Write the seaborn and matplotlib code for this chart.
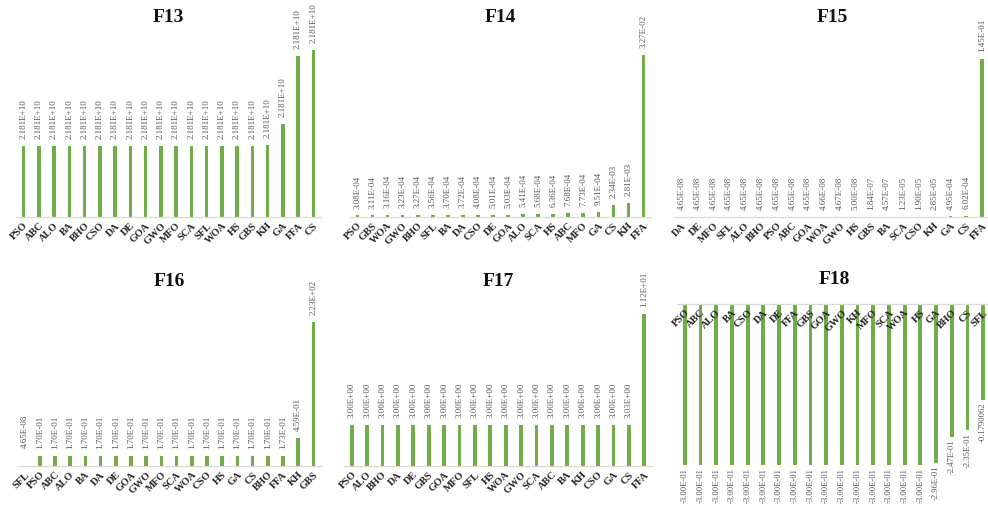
import matplotlib
matplotlib.use("Agg")
import matplotlib.pyplot as plt
import seaborn as sns
import pandas as pd

sns.set_theme(style="white")
plt.rcParams['font.family'] = ['Liberation Serif', 'DejaVu Serif']

GREEN = "#70AD47"

# ---------------- data ----------------
f13_cats = ["PSO", "ABC", "ALO", "BA", "BHO", "CSO", "DA", "DE", "GOA", "GWO",
            "MFO", "SCA", "SFL", "WOA", "HS", "GBS", "KH", "GA", "FFA", "CS"]
f13_vals = [2.18100e10] * 16 + [2.181001e10, 2.181016e10, 2.181064e10, 2.181068e10]
f13_labels = ["2.181E+10"] * 20

f14_cats = ["PSO", "GBS", "WOA", "GWO", "BHO", "SFL", "BA", "DA", "CSO", "DE",
            "GOA", "ALO", "SCA", "HS", "ABC", "MFO", "GA", "CS", "KH", "FFA"]
f14_vals = [3.08e-4, 3.11e-4, 3.16e-4, 3.23e-4, 3.27e-4, 3.56e-4, 3.70e-4, 3.72e-4,
            4.08e-4, 5.01e-4, 5.03e-4, 5.41e-4, 5.68e-4, 6.36e-4, 7.68e-4, 7.73e-4,
            9.51e-4, 2.34e-3, 2.81e-3, 3.27e-2]
f14_labels = ["3.08E-04", "3.11E-04", "3.16E-04", "3.23E-04", "3.27E-04", "3.56E-04",
              "3.70E-04", "3.72E-04", "4.08E-04", "5.01E-04", "5.03E-04", "5.41E-04",
              "5.68E-04", "6.36E-04", "7.68E-04", "7.73E-04", "9.51E-04", "2.34E-03",
              "2.81E-03", "3.27E-02"]

f15_cats = ["DA", "DE", "MFO", "SFL", "ALO", "BHO", "PSO", "ABC", "GOA", "WOA",
            "GWO", "HS", "GBS", "BA", "SCA", "CSO", "KH", "GA", "CS", "FFA"]
f15_vals = [4.65e-8] * 9 + [4.66e-8, 4.67e-8, 5.00e-8, 1.84e-7, 4.57e-7, 1.23e-5,
                            1.90e-5, 2.85e-5, 4.95e-4, 6.02e-4, 1.45e-1]
f15_labels = ["4.65E-08"] * 9 + ["4.66E-08", "4.67E-08", "5.00E-08", "1.84E-07",
                                 "4.57E-07", "1.23E-05", "1.90E-05", "2.85E-05",
                                 "4.95E-04", "6.02E-04", "1.45E-01"]

f16_cats = ["SFL", "PSO", "ABC", "ALO", "BA", "DA", "DE", "GOA", "GWO", "MFO",
            "SCA", "WOA", "CSO", "HS", "GA", "CS", "BHO", "FFA", "KH", "GBS"]
f16_vals = [4.65e-8] + [1.70e-1] * 16 + [1.73e-1, 4.59e-1, 2.23e2]
f16_labels = ["4.65E-08"] + ["1.70E-01"] * 16 + ["1.73E-01", "4.59E-01", "2.23E+02"]

f17_cats = ["PSO", "ALO", "BHO", "DA", "DE", "GBS", "GOA", "MFO", "SFL", "HS",
            "WOA", "GWO", "SCA", "ABC", "BA", "KH", "CSO", "GA", "CS", "FFA"]
f17_vals = [3.00] * 18 + [3.03, 11.2]
f17_labels = ["3.00E+00"] * 18 + ["3.03E+00", "1.12E+01"]

f18_cats = ["PSO", "ABC", "ALO", "BA", "CSO", "DA", "DE", "FFA", "GBS", "GOA",
            "GWO", "KH", "MFO", "SCA", "WOA", "HS", "GA", "BHO", "CS", "SFL"]
f18_vals = [-0.300] * 16 + [-0.296, -0.247, -0.235, -0.1790062]
f18_labels = ["-3.00E-01"] * 16 + ["-2.96E-01", "-2.47E-01", "-2.35E-01", "-0.1790062"]

titles = ["F13", "F14", "F15", "F16", "F17", "F18"]

# ---------------- layout ----------------
W, H = 988, 505
fig = plt.figure(figsize=(W / 100, H / 100), dpi=100)


def rect(x0, x1, ytop, ybot):
    return [x0 / W, (H - ybot) / H, (x1 - x0) / W, (ybot - ytop) / H]


panels = [
    (titles[0], f13_cats, f13_vals, f13_labels, rect(16, 321, 50, 217), (2.18095e10, 2.181068e10), False, 17),
    (titles[1], f14_cats, f14_vals, f14_labels, rect(350, 651, 50, 217), (0, 0.03371), False, 17),
    (titles[2], f15_cats, f15_vals, f15_labels, rect(674, 990, 50, 217), (0, 0.1533), False, 17),
    (titles[3], f16_cats, f16_vals, f16_labels, rect(17, 321, 300, 466), (0.1, 724), True, 281),
    (titles[4], f17_cats, f17_vals, f17_labels, rect(344, 652, 300, 466), (0, 12.23), False, 281),
    (titles[5], f18_cats, f18_vals, f18_labels, rect(677, 991, 304, 465), (-0.3, 0), False, 279),
]

for title, cats, vals, labels, r, ylim, logy, ty in panels:
    ax = fig.add_axes(r)
    df = pd.DataFrame({"cat": cats, "val": vals})
    sns.barplot(data=df, x="cat", y="val", color=GREEN, saturation=1,
                width=0.24, ax=ax, errorbar=None, linewidth=0)
    if logy:
        ax.set_yscale("log")
    ax.set_ylim(*ylim)
    ax.set_xlim(-0.5, len(cats) - 0.5)
    ax.set_xlabel("")
    ax.set_ylabel("")
    ax.set_yticks([])
    ax.set_yticks([], minor=True)
    for s in ["top", "left", "right"]:
        ax.spines[s].set_visible(False)
    ax.spines["bottom"].set_color("#d9d9d9")
    ax.spines["bottom"].set_linewidth(0.9)
    neg = ylim[1] <= 0
    if neg:
        ax.spines["bottom"].set_position(("data", 0))
    ax.set_xticks(range(len(cats)))
    ax.set_xticklabels(cats, rotation=45, ha="right", rotation_mode="anchor",
                       fontweight="bold", fontsize=7.5, color="#262626")
    ax.tick_params(axis="x", length=0, pad=3)
    ax.xaxis.set_zorder(10)
    ax.patch.set_alpha(0)

    for i, (v, lab) in enumerate(zip(vals, labels)):
        if neg:
            ax.annotate(lab, xy=(i, v), xytext=(0, -2),
                        textcoords="offset points", rotation=90,
                        ha="center", va="top", fontsize=6.2, color="#595959",
                        annotation_clip=False)
        else:
            off = 5 if v >= ylim[0] else 13
            ax.annotate(lab, xy=(i, max(v, ylim[0])), xytext=(0, off),
                        textcoords="offset points", rotation=90,
                        ha="center", va="bottom", fontsize=6.5, color="#595959",
                        annotation_clip=False)

    cx = r[0] + r[2] / 2
    fig.text(cx, 1 - ty / H, title, ha="center", va="center",
             fontsize=14, fontweight="bold", color="#111111")

fig.savefig("out.png", dpi=100)
